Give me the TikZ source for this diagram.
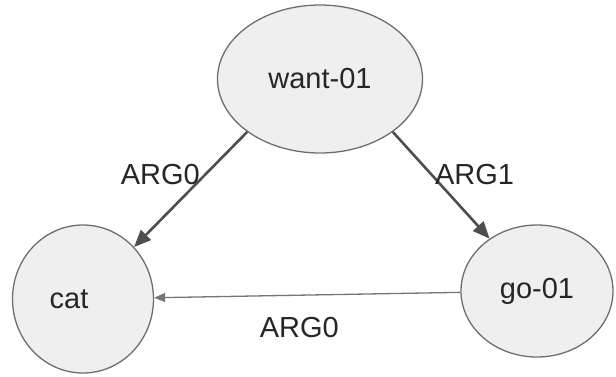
\documentclass[tikz,border=0pt]{standalone}
\usepackage{fontspec}
\setmainfont{Liberation Sans}
\usetikzlibrary{shapes.geometric,arrows.meta}
\definecolor{conceptfill}{HTML}{EFEFEF}
\definecolor{conceptline}{HTML}{6E6E6E}
\definecolor{reldark}{HTML}{4E4E4E}
\definecolor{rellight}{HTML}{757575}
\begin{document}
\begin{tikzpicture}[x=1pt,y=-1pt,
    concept/.style={ellipse,draw=conceptline,line width=1.3pt,fill=conceptfill,inner sep=0pt,
      text=black!85,font=\fontsize{29}{34}\selectfont},
    role/.style={inner sep=0pt,text=black!85,font=\fontsize{29}{34}\selectfont},
    relthick/.style={-{Triangle[length=17pt,width=14pt]},draw=reldark,line width=2.6pt},
    relthin/.style={-{Triangle[length=11pt,width=9pt]},draw=rellight,line width=1.3pt}]
  \useasboundingbox (0,0) rectangle (616,376);

  \node [concept,minimum width=205pt,minimum height=148pt] (want) at (320,79) {want-01};
  \node [concept,minimum width=141pt,minimum height=148pt] (cat) at (83,299) {cat\hspace*{28pt}};
  \node [concept,minimum width=152pt,minimum height=132pt] (go) at (537,291) {go-01};

  \draw[relthick] (want.216) -- (cat) node [role,pos=0.372,anchor=east,xshift=-4pt] {ARG0};
  \draw[relthick] (want.324) -- (go) node [role,pos=0.402,anchor=west,xshift=2pt] {ARG1};
  \draw[relthin] (go) -- (cat) node [role,midway,xshift=-8pt,yshift=-32pt] {ARG0};
\end{tikzpicture}
\end{document}
